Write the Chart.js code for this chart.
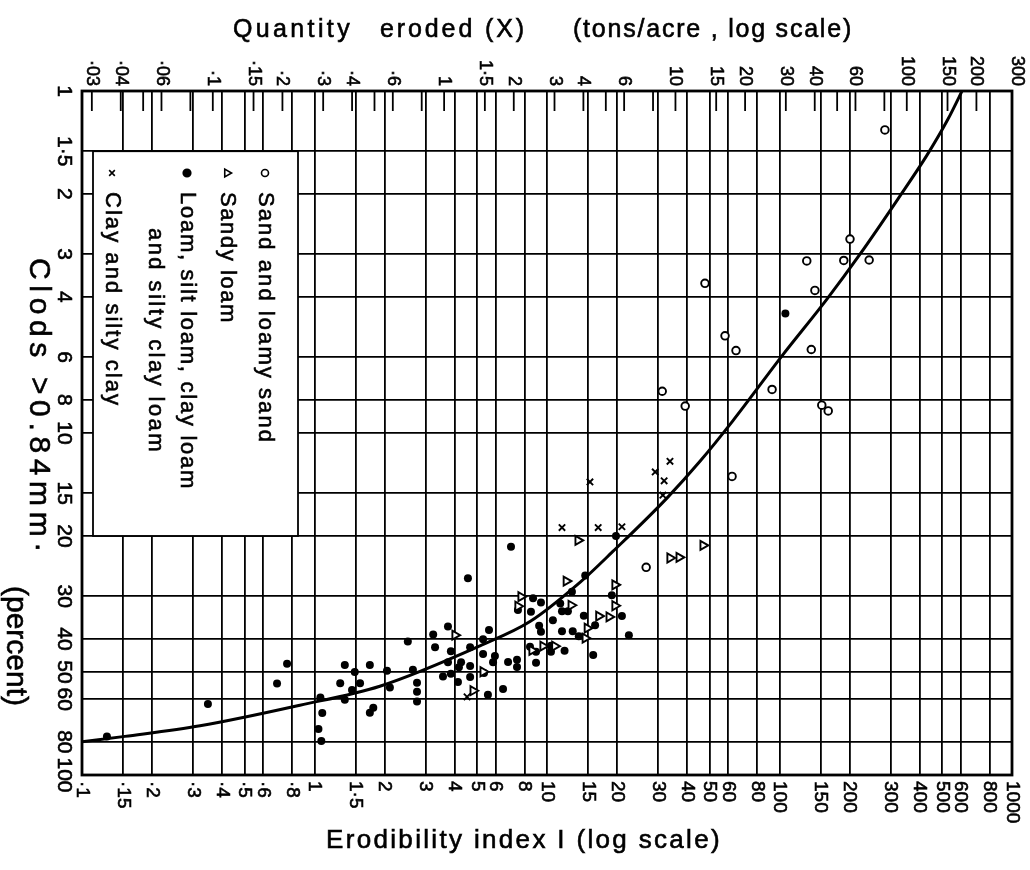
<!DOCTYPE html>
<html>
<head>
<meta charset="utf-8">
<script src="https://cdn.jsdelivr.net/npm/chart.js@4.4.1/dist/chart.umd.min.js"></script>
<style>
  body { margin: 0; background: #fff; }
  canvas { display: block; }
</style>
</head>
<body>
<canvas id="myChart" width="1030" height="870"></canvas>
<script>
// bottom axis: erodibility index I
const bottomTicks = [0.1, 0.15, 0.2, 0.3, 0.4, 0.5, 0.6, 0.8, 1, 1.5, 2, 3, 4, 5, 6, 8, 10, 15, 20, 30, 40, 50, 60, 80, 100, 150, 200, 300, 400, 500, 600, 800, 1000]
const bottomLabels = ['·1', '·15', '·2', '·3', '·4', '·5', '·6', '·8', '1', '1·5', '2', '3', '4', '5', '6', '8', '10', '15', '20', '30', '40', '50', '60', '80', '100', '150', '200', '300', '400', '500', '600', '800', '1000']

// left axis: clods > 0.84 mm (percent), runs downwards
const leftTicks = [1, 1.5, 2, 3, 4, 6, 8, 10, 15, 20, 30, 40, 50, 60, 80, 100]
const leftLabels = ['1', '1·5', '2', '3', '4', '6', '8', '10', '15', '20', '30', '40', '50', '60', '80', '100']

// top axis: quantity eroded X (tons/acre), blank label = tick only
const topTicks = [0.03, 0.04, 0.05, 0.06, 0.08, 0.1, 0.15, 0.2, 0.3, 0.4, 0.5, 0.6, 0.8, 1, 1.5, 2, 3, 4, 5, 6, 8, 10, 15, 20, 30, 40, 50, 60, 80, 100, 150, 200, 300]
const topLabels = ['·03', '·04', '', '·06', '', '·1', '·15', '·2', '·3', '·4', '', '·6', '', '1', '1·5', '2', '3', '4', '', '6', '', '10', '15', '20', '30', '40', '', '60', '', '100', '150', '200', '300']

// sand and loamy sand
const sandI = [284, 201, 131, 189, 243, 47.8, 142, 58.3, 65, 137, 92.9, 152, 162, 31.3, 39.3, 62.5, 26.7]
const sandC = [1.3, 2.71, 3.14, 3.13, 3.12, 3.65, 3.83, 5.2, 5.74, 5.7, 7.46, 8.29, 8.62, 7.55, 8.34, 13.4, 24.7]

// sandy loam
const sandyLoamI = [13.6, 12.1, 7.73, 7.5, 12.7, 19.6, 19.6, 16.7, 18.5, 14.9, 14.6, 4.02, 8.62, 9.61, 10.8, 5.31, 4.81, 46.9, 33.8, 37]
const sandyLoamC = [20.6, 27.1, 30.1, 32.1, 31.9, 27.8, 32, 34.3, 34.5, 37.2, 39.8, 39, 43.2, 42, 42, 49.9, 56.7, 21.3, 23.2, 23.1]

// loam, silt loam, clay loam and silty clay loam
const loamI = [0.128, 0.348, 0.762, 0.69, 1.06, 1.08, 1.04, 1.07, 1.35, 1.49, 1.45, 1.35, 1.57, 1.29, 1.73, 1.79, 1.73, 2.11,
  2.52, 2.05, 2.65, 2.76, 2.76, 2.76, 3.24, 3.75, 3.3, 3.86, 4.67, 5.63, 5.31, 4.57, 7, 3.75, 4.27, 4.18, 4.67, 3.57, 3.86,
  5.36, 5.31, 5.97, 5.86, 6.8, 7.43, 7.43, 8.97, 4.67, 4.14, 6.47, 5.57, 8.45, 8.97, 10.4, 10.4, 11.9, 15.8, 8.71, 9.42,
  7.5, 8.53, 10.6, 9.25, 9.42, 11.6, 12.9, 13.7, 14.4, 16.1, 21, 22.5, 19, 14.6, 12.8, 19.8, 106, 11.4, 11.6, 12.3]
const loamC = [77.2, 62, 47.3, 54, 59.3, 65.9, 73.4, 79.5, 47.7, 50, 56.4, 60.3, 53.9, 53.9, 47.7, 63.6, 65.8, 55.5,
  40.7, 49.6, 49.2, 53.7, 57.1, 61, 38.8, 36.8, 42.3, 43.5, 42.3, 37.7, 40.1, 26.6, 21.5, 46.8, 46.8, 48.4, 48, 51.5, 50.6,
  50.3, 44.3, 44.9, 46.8, 46.7, 46, 48.3, 47, 51.7, 53.5, 56, 58.3, 42.2, 43.6, 41.9, 43.6, 43.3, 44.6, 30.4, 31.3,
  32.9, 33.3, 35.3, 36.6, 38.1, 38, 38, 39.3, 34.2, 36.5, 34.3, 39, 29.8, 26.1, 29.1, 20, 4.47, 31.5, 33.2, 33.2]

// clay and silty clay
const clayI = [11.6, 16.6, 21, 15.3, 33.8, 29.2, 31.9, 31.5, 4.53]
const clayC = [18.9, 18.9, 18.8, 13.9, 12.1, 13, 13.8, 15.2, 59.1]

// fitted curve
const curveI = [0.1, 0.153, 0.322, 0.866, 1.91, 5.15, 8.45, 13.9, 19.2, 32.8, 45.5, 63.1, 103.5, 160, 222, 323, 431, 530, 628]
const curveC = [80, 77.1, 71.8, 62.5, 55, 41.9, 35.6, 27.3, 22.2, 15.5, 12.1, 9.2, 5.9, 4.06, 3, 2.07, 1.54, 1.21, 0.96]

const pts = (xs, ys) => xs.map((x, i) => ({ x: x, y: ys[i] }))

const legendRows = [
    { text: 'Sand and loamy sand', style: 'circle', radius: 3.5, fill: '#fff', rot: 0, col: 265, start: 192, width: 252 },
    { text: 'Sandy loam', style: 'triangle', radius: 4.5, fill: '#fff', rot: 90, col: 227, start: 192, width: 132 },
    { text: 'Loam, silt loam, clay loam', style: 'circle', radius: 3.8, fill: '#000', rot: 0, col: 187, start: 192, width: 298 },
    { text: 'and silty clay loam', style: null, col: 155, start: 228, width: 226 },
    { text: 'Clay and silty clay', style: 'crossRot', radius: 4, fill: '#fff', rot: 0, col: 112, start: 192, width: 215 },
]

const FONT = '"Liberation Sans", Arial, sans-serif'

// stretch letter spacing so a text fills a given length
function spaced(c, text, width) {
    c.letterSpacing = '0px'
    const w = c.measureText(text).width
    c.letterSpacing = Math.max(0, (width - w) / text.length) + 'px'
}

// filled text with a thin outline, the scan has heavy lettering
function ink(c, text, x, y) {
    c.fillText(text, x, y)
    c.lineWidth = 0.6
    c.strokeText(text, x, y)
}

function vText(c, text, x, y, align) {
    c.save()
    c.translate(x, y)
    c.rotate(Math.PI / 2)
    c.textAlign = align
    c.textBaseline = 'middle'
    ink(c, text, 0, 0)
    c.restore()
}

const legendBox = {
    id: 'legendBox',
    beforeDatasetsDraw(chart) {
        const c = chart.ctx
        const y = chart.scales.y
        const top = y.getPixelForValue(1.5)
        const bottom = y.getPixelForValue(20)
        c.save()
        c.fillStyle = '#fff'
        c.fillRect(93, top, 205, bottom - top)
        c.strokeStyle = '#000'
        c.lineWidth = 1.8
        c.strokeRect(93, top, 205, bottom - top)
        c.fillStyle = '#000'
        c.font = '22px ' + FONT
        for (const r of legendRows) {
            if (r.style) {
                c.save()
                c.fillStyle = r.fill
                c.strokeStyle = '#000'
                c.lineWidth = 1.6
                Chart.helpers.drawPoint(c, { pointStyle: r.style, radius: r.radius, rotation: r.rot, borderWidth: 1.6 }, r.col, 173)
                c.restore()
            }
            spaced(c, r.text, r.width)
            vText(c, r.text, r.col, r.start, 'left')
        }
        c.restore()
    }
}

const frameAndText = {
    id: 'frameAndText',
    afterDraw(chart) {
        const c = chart.ctx
        const a = chart.chartArea
        const x = chart.scales.x
        const x2 = chart.scales.x2
        const y = chart.scales.y
        c.save()
        c.strokeStyle = '#000'
        c.fillStyle = '#000'

        c.lineWidth = 2.8
        c.strokeRect(a.left, a.top, a.right - a.left, a.bottom - a.top)

        // top axis: short ticks hanging inside the frame
        c.font = '18px ' + FONT
        c.letterSpacing = '0px'
        topTicks.forEach((v, i) => {
            const px = x2.getPixelForValue(v)
            if (px > a.left + 1 && px < a.right - 1) {
                c.lineWidth = 1.8
                c.beginPath()
                c.moveTo(px, a.top)
                c.lineTo(px, a.top + 20)
                c.stroke()
            }
            if (topLabels[i]) vText(c, topLabels[i], px, a.top - 5, 'right')
        })

        c.font = '19px ' + FONT
        bottomTicks.forEach((v, i) => {
            vText(c, bottomLabels[i], x.getPixelForValue(v), a.bottom + 6, 'left')
        })

        c.font = '21px ' + FONT
        leftTicks.forEach((v, i) => {
            vText(c, leftLabels[i], a.left - 18, y.getPixelForValue(v), 'center')
        })

        // axis titles
        c.textBaseline = 'alphabetic'
        c.textAlign = 'left'
        c.font = '25px ' + FONT
        spaced(c, 'Quantity', 120)
        ink(c, 'Quantity', 233, 37)
        spaced(c, 'eroded (X)', 147)
        ink(c, 'eroded (X)', 380, 37)
        spaced(c, '(tons/acre , log scale)', 280)
        ink(c, '(tons/acre , log scale)', 573, 37)

        c.font = '26px ' + FONT
        spaced(c, 'Erodibility index I (log scale)', 396)
        ink(c, 'Erodibility index I (log scale)', 326, 848)

        c.font = '30px ' + FONT
        spaced(c, 'Clods >0.84mm·', 300)
        vText(c, 'Clods >0.84mm·', 38, 258, 'left')
        spaced(c, '(percent)', 104)
        vText(c, '(percent)', 15, 586, 'left')
        c.restore()
    }
}

const gridStyle = { color: '#000', lineWidth: 1.8, drawTicks: false }

const config = {
    type: 'scatter',
    data: {
        datasets: [
            {
                label: 'Sand and loamy sand',
                data: pts(sandI, sandC),
                pointStyle: 'circle',
                pointRadius: 3.8,
                borderWidth: 1.9,
                borderColor: '#000',
                backgroundColor: '#fff',
            },
            {
                label: 'Sandy loam',
                data: pts(sandyLoamI, sandyLoamC),
                pointStyle: 'triangle',
                rotation: 90,
                pointRadius: 5.2,
                borderWidth: 1.9,
                borderColor: '#000',
                backgroundColor: '#fff',
            },
            {
                label: 'Loam, silt loam, clay loam and silty clay loam',
                data: pts(loamI, loamC),
                pointStyle: 'circle',
                pointRadius: 4,
                borderWidth: 0,
                borderColor: '#000',
                backgroundColor: '#000',
            },
            {
                label: 'Clay and silty clay',
                data: pts(clayI, clayC),
                pointStyle: 'crossRot',
                pointRadius: 4.5,
                borderWidth: 1.9,
                borderColor: '#000',
                backgroundColor: '#000',
            },
            {
                label: 'curve',
                data: pts(curveI, curveC),
                showLine: true,
                pointRadius: 0,
                borderColor: '#000',
                borderWidth: 3,
                cubicInterpolationMode: 'monotone',
                fill: false,
            },
        ]
    },
    options: {
        responsive: false,
        animation: false,
        layout: { padding: { left: 82, right: 18, top: 91, bottom: 95 } },
        plugins: {
            legend: { display: false },
            tooltip: { enabled: false },
        },
        scales: {
            x: {
                type: 'logarithmic',
                position: 'bottom',
                min: 0.1,
                max: 1000,
                afterBuildTicks: (s) => { s.ticks = bottomTicks.map((v) => ({ value: v })) },
                ticks: { display: false, autoSkip: false },
                grid: gridStyle,
                border: { display: false },
            },
            x2: {
                type: 'logarithmic',
                position: 'top',
                min: 0.0272,
                max: 285,
                display: false,
            },
            y: {
                type: 'logarithmic',
                reverse: true,
                min: 1,
                max: 100,
                afterBuildTicks: (s) => { s.ticks = leftTicks.map((v) => ({ value: v })) },
                ticks: { display: false, autoSkip: false },
                grid: gridStyle,
                border: { display: false },
            },
        },
    },
    plugins: [legendBox, frameAndText],
}

const myChart = new Chart(document.getElementById('myChart'), config)
</script>
</body>
</html>
